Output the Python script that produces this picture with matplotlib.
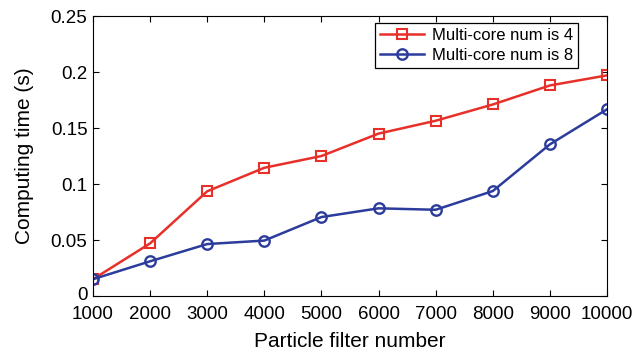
import numpy as np
import matplotlib
matplotlib.use('Agg')
import matplotlib.pyplot as plt
import matplotlib.transforms as mtransforms

plt.rcParams['font.family'] = ['Liberation Sans', 'DejaVu Sans']

particles = [1000, 2000, 3000, 4000, 5000, 6000, 7000, 8000, 9000, 10000]
core4 = [0.015, 0.047, 0.0935, 0.1145, 0.125, 0.145, 0.1565, 0.171, 0.188, 0.197]
core8 = [0.015, 0.031, 0.0464, 0.0495, 0.0705, 0.0783, 0.077, 0.0937, 0.1354, 0.1667]
yticks = [0, 0.05, 0.1, 0.15, 0.2, 0.25]
ytick_labels = ['0', '0.05', '0.1', '0.15', '0.2', '0.25']

fig = plt.figure(figsize=(6.44, 3.56), dpi=100)
ax = fig.add_axes([0.1444, 0.1685, 0.7981, 0.7865])

red = '#e8302a'
blue = '#2c3c9c'
ax.plot(particles, core4, color=red, lw=1.8, marker='s', ms=6.5, mfc='none',
        mec=red, mew=1.5, label='Multi-core num is 4')
ax.plot(particles, core8, color=blue, lw=1.8, marker='o', ms=7.5, mfc='none',
        mec=blue, mew=1.7, label='Multi-core num is 8')

ax.set_xlim(1000, 10000)
ax.set_ylim(0, 0.25)
ax.set_xticks(particles)
ax.set_yticks(yticks)
ax.set_yticklabels(ytick_labels)
ax.tick_params(direction='in', top=True, right=True, labelsize=13.5, length=4)
ax.tick_params(axis='x', pad=7)
ax.tick_params(axis='y', pad=4)
ax.set_xlabel('Particle filter number', fontsize=15, labelpad=7)
ax.set_ylabel('Computing time (s)', fontsize=15, labelpad=12)
for s in ax.spines.values():
    s.set_linewidth(0.8)

# nudge the "0" label up a bit so it doesn't collide with "1000"
lab0 = ax.get_yticklabels()[0]
lab0.set_transform(lab0.get_transform() + mtransforms.ScaledTranslation(0, 2/72, fig.dpi_scale_trans))

leg = ax.legend(loc='upper right', bbox_to_anchor=(0.9436, 0.975), fontsize=12,
                fancybox=False, framealpha=1, edgecolor='black',
                handlelength=2.6, borderpad=0.3, labelspacing=0.3,
                handletextpad=0.5, borderaxespad=0)
leg.get_frame().set_linewidth(0.9)

fig.savefig('out.png', dpi=100)
